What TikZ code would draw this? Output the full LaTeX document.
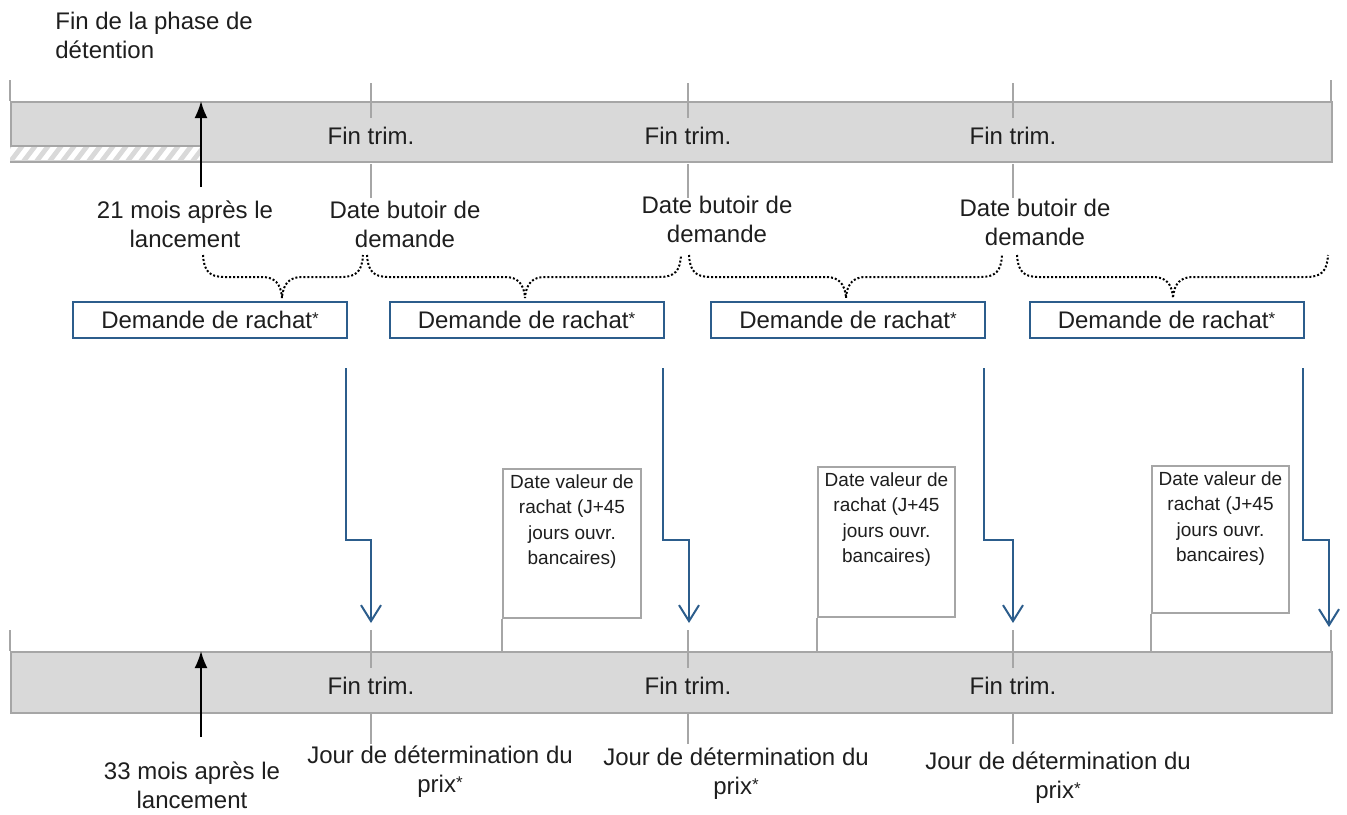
\documentclass[tikz,border=0pt]{standalone}
\usepackage{fontspec}
\setmainfont{Liberation Sans}
\usetikzlibrary{positioning, arrows.meta}
\definecolor{Ink}{HTML}{1E1E1E}
\definecolor{BarFill}{HTML}{D9D9D9}
\definecolor{BarEdge}{HTML}{A6A6A6}
\definecolor{Navy}{HTML}{2C5D8C}
\newcommand{\astk}{{\fontsize{8.5}{8.5}\selectfont\raisebox{2.2pt}{*}}}
\tikzset{
    bar/.style={rectangle, fill=BarFill, draw=BarEdge, line width=1pt, anchor=north west, inner sep=0pt},
    tickline/.style={draw=BarEdge, line width=0.8pt},
    txt/.style={align=center, text=Ink, inner sep=0pt, font=\fontsize{12}{14.5}\selectfont},
    smalltxt/.style={align=center, text=Ink, inner sep=0pt, font=\fontsize{9.5}{12.75}\selectfont},
    reqbox/.style={rectangle, draw=Navy, line width=1pt, minimum width=137pt, minimum height=18pt, inner sep=0pt, text=Ink, font=\fontsize{12}{14.5}\selectfont},
    valbox/.style={rectangle, draw=BarEdge, line width=1pt, fill=white, inner sep=0pt},
    flow/.style={draw=Navy, line width=1pt, -{Straight Barb[length=8pt, width=10pt]}},
    pointer/.style={draw=black, line width=1pt, -{Latex[length=8.5pt, width=6.5pt]}},
    dotbrace/.style={draw=black, line width=1pt, dash pattern=on 1pt off 1pt},
    hatch/.style={draw=BarFill, line width=2.4pt},
}

\begin{document}
\begin{tikzpicture}[x=0.5pt, y=-0.5pt]
                \useasboundingbox (0,0) rectangle (1347,814);

                % Barres du temps
                \node[bar, minimum width=660.5pt, minimum height=30pt] (barT) at (10,101) {};
                \node[bar, minimum width=660.5pt, minimum height=30.5pt] (barB) at (10,651) {};

                % Phase de detention (hachures)
                \begin{scope}
                    \clip (10,147) rectangle (201,160);
                    \fill[white] (10,147) rectangle (201,160);
                    \foreach \k in {-1,...,15} \draw[hatch] (10+\k*13,162) -- ++(13,-17);
                \end{scope}
                \draw[tickline, line width=1pt] (10,146) -- (201,146);

                % Traits des fins de trimestre
                \foreach \x in {371,688,1013} {
                    \draw[tickline] (\x,83) -- (\x,118);
                    \draw[tickline] (\x,164) -- (\x,198);
                    \draw[tickline] (\x,630) -- (\x,668);
                    \draw[tickline] (\x,714) -- (\x,744);
                }
                \foreach \x in {10,1331} {
                    \draw[tickline] (\x,80) -- (\x,101);
                    \draw[tickline] (\x,630) -- (\x,651);
                }
                \foreach \x/\n in {371/1, 688/2, 1013/3} {
                    \node[txt, anchor=base] (ftA\n) at (\x,144) {Fin trim.};
                    \node[txt, anchor=base] (ftB\n) at (\x,694) {Fin trim.};
                }

                % Textes du haut
                \node[txt, align=left, anchor=west] (phase) at (55,35) {Fin de la phase de\\détention};
                \node[txt] (lab21) at (185,224) {21 mois après le\\lancement};
                \node[txt] (but1) at (405,224) {Date butoir de\\demande};
                \node[txt] (but2) at (717,219) {Date butoir de\\demande};
                \node[txt] (but3) at (1035,222) {Date butoir de\\demande};

                % Fleches noires
                \coordinate (m21) at (201,187);
                \coordinate (m33) at (201,737);
                \draw[pointer] (m21) -- (m21 |- barT.north);
                \draw[pointer] (m33) -- (m33 |- barB.north);

                % Accolades
                \foreach \a/\m/\b in {203/282/363, 367/525/681, 689/846/1002, 1017/1173/1328} {
                    \draw[dotbrace] (\a,255) .. controls (\a+1,271) and (\a+6,277) .. (\a+22,277)
                        -- (\m-20,277) .. controls (\m-8,277) and (\m-1,283) .. (\m,298)
                        .. controls (\m+1,283) and (\m+8,277) .. (\m+20,277)
                        -- (\b-22,277) .. controls (\b-6,277) and (\b-1,271) .. (\b,255);
                }

                % Demandes de rachat
                \node[reqbox] (req1) at (210,320) {Demande de rachat\astk};
                \node[reqbox] (req2) at (526.5,320) {Demande de rachat\astk};
                \node[reqbox] (req3) at (848,320) {Demande de rachat\astk};
                \node[reqbox] (req4) at (1166.5,320) {Demande de rachat\astk};

                \foreach \n/\x/\y in {1/371/623, 2/689/623, 3/1013/623, 4/1329/627} {
                    \coordinate (drop\n) at (\x,\y);
                    \draw[flow] ([shift={(-2,29)}]req\n.south east) -- ++(0,172) -| (drop\n);
                }

                % Dates valeur
                \node[valbox, minimum width=69pt, minimum height=74.5pt] (val1) at (572,543.5) {};
                \node[valbox, minimum width=68.5pt, minimum height=75pt] (val2) at (886.5,542) {};
                \node[valbox, minimum width=68.5pt, minimum height=73.5pt] (val3) at (1220.5,539.5) {};
                \foreach \n in {1,2,3} {
                    \node[smalltxt, anchor=north] (valtxt\n) at ([yshift=-3pt]val\n.north) {Date valeur de\\rachat (J+45\\jours ouvr.\\bancaires)};
                    \draw[tickline, line width=1pt] (val\n.south west) -- (val\n.south west |- barB.north);
                }

                % Textes du bas
                \node[txt] (lab33) at (192,785) {33 mois après le\\lancement};
                \node[txt] (jour1) at (440,772) {Jour de détermination du\\prix\astk};
                \node[txt] (jour2) at (736,774) {Jour de détermination du\\prix\astk};
                \node[txt] (jour3) at (1058,778) {Jour de détermination du\\prix\astk};
            \end{tikzpicture}
\end{document}
